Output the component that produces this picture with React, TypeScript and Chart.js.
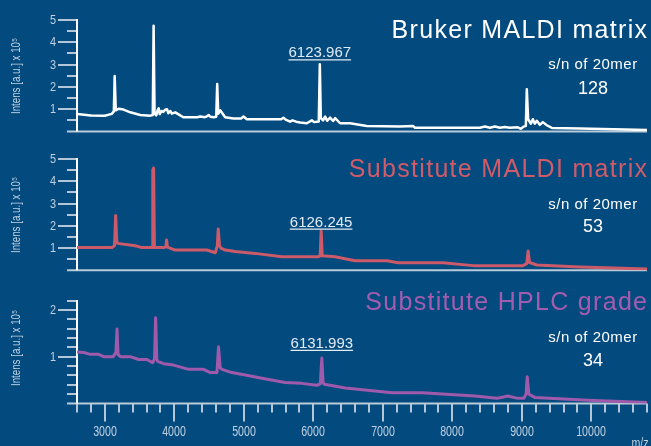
import React, { useEffect, useRef } from 'react';
import { Chart, registerables } from 'chart.js';

Chart.register(...registerables);

// ---------------- data ----------------
const mzMin = 2600;
const mzMax = 10800;
const xMajorTicks = [3000, 4000, 5000, 6000, 7000, 8000, 9000, 10000];

const panelTitles = ['Bruker MALDI matrix', 'Substitute MALDI matrix', 'Substitute HPLC grade'];
const snLabel = 's/n of 20mer';
const snValues = ['128', '53', '34'];
const peakLabels = ['6123.967', '6126.245', '6131.993'];
const peakLabelMz = [6093, 6112, 6122];
const peakLabelIntens = [3.32, 1.96, 1.19];
const yMaxes = [5, 5, 2.2];
const ySteps = [0.5, 0.5, 0.2];
const yAxisTitle = 'Intens [a.u.] x 10⁵';
const xAxisTitle = 'm/z';

const brukerMz = [
  2600, 2800, 3000, 3100, 3130, 3142, 3158, 3195, 3250, 3367, 3510, 3655, 3690, 3702, 3716, 3740,
  3760, 3775, 3790, 3815, 3841, 3870, 3895, 3913, 3942, 3965, 4014, 4061, 4129, 4330, 4373, 4440,
  4469, 4495, 4517, 4564, 4603, 4617, 4632, 4660, 4685, 4732, 4851, 4960, 4995, 5044, 5331, 5537,
  5570, 5601, 5666, 5700, 5752, 5810, 5906, 5978, 6011, 6078, 6093, 6108, 6140, 6169, 6198, 6241,
  6284, 6313, 6385, 6528, 6768, 7246, 7433, 7462, 8396, 8468, 8540, 8612, 8683, 8755, 8827, 8942,
  8985, 9028, 9057, 9071, 9090, 9129, 9158, 9186, 9215, 9258, 9301, 9359, 9431, 9834, 10800,
];
const brukerIntens = [
  0.79, 0.72, 0.71, 0.79, 0.9, 2.49, 0.95, 1.02, 1.0, 0.86, 0.74, 0.71, 0.74, 4.74, 0.8, 0.72,
  0.95, 1.04, 0.78, 0.92, 0.88, 0.98, 1.0, 0.82, 0.92, 0.8, 0.86, 0.77, 0.64, 0.64, 0.67, 0.64,
  0.68, 0.74, 0.66, 0.64, 0.66, 2.13, 0.8, 0.95, 0.84, 0.64, 0.58, 0.58, 0.67, 0.55, 0.55, 0.55,
  0.62, 0.53, 0.44, 0.5, 0.44, 0.4, 0.37, 0.5, 0.42, 0.45, 3.02, 0.6, 0.5, 0.67, 0.48, 0.62,
  0.47, 0.6, 0.37, 0.37, 0.25, 0.22, 0.25, 0.17, 0.17, 0.22, 0.17, 0.22, 0.17, 0.2, 0.17, 0.19,
  0.12, 0.22, 0.25, 1.9, 0.55, 0.35, 0.55, 0.35, 0.48, 0.3, 0.42, 0.28, 0.16, 0.13, 0.07,
];

const substituteMz = [
  2600, 3104, 3140, 3156, 3172, 3185, 3439, 3535, 3679, 3690, 3702, 3714, 3741, 3841, 3878, 3889,
  3900, 3918, 4014, 4469, 4589, 4618, 4632, 4650, 4670, 4732, 4876, 5163, 5547, 6073, 6098, 6112,
  6128, 6313, 6600, 7060, 7218, 7864, 8296, 9014, 9070, 9090, 9110, 9215, 9834, 10800,
];
const substituteIntens = [
  1.02, 1.02, 1.1, 2.46, 1.3, 1.21, 1.1, 1.02, 1.02, 4.5, 4.59, 1.02, 1.02, 1.02, 1.05, 1.36,
  1.05, 1.02, 0.91, 0.91, 0.79, 1.1, 1.85, 1.1, 1.0, 0.91, 0.84, 0.76, 0.61, 0.61, 0.65, 1.77,
  0.65, 0.61, 0.43, 0.43, 0.34, 0.34, 0.21, 0.21, 0.3, 0.87, 0.35, 0.24, 0.15, 0.06,
];

const hplcMz = [
  2600, 2696, 2793, 2912, 2984, 3119, 3142, 3160, 3176, 3190, 3224, 3367, 3487, 3607, 3688, 3715,
  3731, 3748, 3760, 3846, 3989, 4205, 4420, 4517, 4613, 4636, 4660, 4685, 4828, 5020, 5260, 5594,
  5834, 6050, 6100, 6122, 6140, 6159, 6460, 7132, 7563, 8324, 8640, 8798, 8913, 9028, 9060, 9077,
  9100, 9186, 9948, 10800,
];
const hplcIntens = [
  1.1, 1.09, 1.05, 1.05, 1.0, 1.0, 1.05, 1.1, 1.59, 1.05, 1.0, 1.0, 0.94, 0.94, 0.87, 0.95,
  1.83, 0.95, 0.9, 0.85, 0.82, 0.73, 0.73, 0.66, 0.66, 1.21, 0.76, 0.73, 0.66, 0.61, 0.54, 0.45,
  0.43, 0.39, 0.42, 0.97, 0.45, 0.41, 0.33, 0.23, 0.23, 0.16, 0.11, 0.16, 0.12, 0.11, 0.2, 0.57,
  0.2, 0.13, 0.07, 0.02,
];

// ---------------- styles / layout ----------------
const BG = '#034a7f';
const SANS = "'Liberation Sans', Arial, Helvetica, sans-serif";
const AXIS_TXT = '#c0d1e1';
const TICK_COL = '#b4c7d9';
const XAXIS_COL = '#b9cad9';

const W = 651;
const H = 446;

const seriesMz = [brukerMz, substituteMz, hplcMz];
const seriesIntens = [brukerIntens, substituteIntens, hplcIntens];
const lineColors = ['#ffffff', '#cd5a68', '#a05aab'];
const titleColors = ['#ffffff', '#d05b69', '#a45cae'];
const lineWidths = [2.5, 3, 3];

const layouts = [
  { top: 0, height: 140, padTop: 20, padBottom: 8.5, titleY: 37.7, snY: 69, numY: 94.3, yTitleY: 76 },
  { top: 140, height: 145, padTop: 19, padBottom: 14.7, titleY: 177.3, snY: 209, numY: 232.3, yTitleY: 215 },
  { top: 285, height: 161, padTop: 15.5, padBottom: 6.5, titleY: 310, snY: 341.7, numY: 366, yTitleY: 348 },
];

const isInt = (v: number) => Math.abs(v - Math.round(v)) < 1e-6;

function condensedText(
  ctx: any,
  text: string,
  x: number,
  y: number,
  align: string,
  baseline: string,
  squeeze: number,
  rot = 0
) {
  ctx.save();
  ctx.translate(x, y);
  if (rot) ctx.rotate(rot);
  ctx.scale(squeeze, 1);
  ctx.textAlign = align;
  ctx.textBaseline = baseline;
  ctx.fillText(text, 0, 0);
  ctx.restore();
}

const axesPlugin = {
  id: 'specAxes',
  beforeDatasetsDraw(chart: any, _args: any, o: any) {
    const { ctx, chartArea: ca, scales } = chart;
    const y = scales.y;
    const x = scales.x;
    const by = y.getPixelForValue(0);
    ctx.save();
    ctx.lineWidth = 2;
    ctx.strokeStyle = TICK_COL;
    ctx.fillStyle = AXIS_TXT;
    ctx.font = `13px ${SANS}`;
    y.ticks.forEach((t: any) => {
      if (t.value <= 0) return;
      const py = Math.round(y.getPixelForValue(t.value));
      const major = isInt(t.value);
      const len = major ? 19 : 10;
      ctx.beginPath();
      ctx.moveTo(ca.left - len, py);
      ctx.lineTo(ca.left, py);
      ctx.stroke();
      if (major) condensedText(ctx, String(Math.round(t.value)), ca.left - 21, py + 0.5, 'right', 'middle', 0.84);
    });
    // y axis title
    ctx.font = `12.5px ${SANS}`;
    condensedText(ctx, yAxisTitle, 17, o.yTitleY, 'center', 'middle', 0.78, -Math.PI / 2);
    if (o.xTicks) {
      ctx.font = `14px ${SANS}`;
      x.ticks.forEach((t: any) => {
        const px = Math.round(x.getPixelForValue(t.value));
        const major = xMajorTicks.includes(t.value);
        const len = major ? 18 : 9;
        ctx.beginPath();
        ctx.moveTo(px, by);
        ctx.lineTo(px, by + len);
        ctx.stroke();
        if (major) condensedText(ctx, String(t.value), px, by + 32.3, 'center', 'alphabetic', 0.76);
      });
      condensedText(ctx, xAxisTitle, 640, chart.height + 2, 'center', 'alphabetic', 0.76);
    }
    ctx.strokeStyle = XAXIS_COL;
    ctx.beginPath();
    ctx.moveTo(ca.left - 10, by);
    ctx.lineTo(ca.right, by);
    ctx.stroke();
    ctx.strokeStyle = '#ffffff';
    ctx.beginPath();
    ctx.moveTo(ca.left, Math.round(y.getPixelForValue(y.max)) - 1);
    ctx.lineTo(ca.left, by);
    ctx.stroke();
    ctx.restore();
  },
};

const textPlugin = {
  id: 'specText',
  afterDraw(chart: any, _args: any, o: any) {
    const { ctx, scales } = chart;
    const x = scales.x;
    const y = scales.y;
    ctx.save();
    ctx.textBaseline = 'alphabetic';
    // panel title
    ctx.fillStyle = o.titleColor;
    ctx.font = `25px ${SANS}`;
    (ctx as any).letterSpacing = '1.3px';
    ctx.textAlign = 'right';
    ctx.fillText(o.title, 647 + 1.3, o.titleY);
    // s/n label
    ctx.fillStyle = '#ffffff';
    ctx.font = `15px ${SANS}`;
    (ctx as any).letterSpacing = '0.5px';
    ctx.textAlign = 'center';
    ctx.fillText(snLabel, 593, o.snY);
    (ctx as any).letterSpacing = '0px';
    ctx.font = `18px ${SANS}`;
    ctx.fillText(o.sn, 593, o.numY);
    // peak annotation
    ctx.fillStyle = '#e3ebf2';
    ctx.strokeStyle = '#e3ebf2';
    ctx.font = `15px ${SANS}`;
    const px = x.getPixelForValue(o.peakMz);
    const py = y.getPixelForValue(o.peakY);
    ctx.textAlign = 'center';
    ctx.fillText(o.peakLabel, px, py);
    const w = ctx.measureText(o.peakLabel).width;
    ctx.lineWidth = 1.3;
    ctx.beginPath();
    ctx.moveTo(px - w / 2, py + 2.5);
    ctx.lineTo(px + w / 2, py + 2.5);
    ctx.stroke();
    ctx.restore();
  },
};

function Panel({ idx }: { idx: number }) {
  const ref = useRef<HTMLCanvasElement>(null);
  const L = layouts[idx];
  useEffect(() => {
    if (!ref.current) return;
    const isBottom = idx === 2;
    const mz = seriesMz[idx];
    const it = seriesIntens[idx];
    const chart = new Chart(ref.current, {
      type: 'line',
      data: {
        datasets: [
          {
            data: mz.map((m, i) => ({ x: m, y: it[i] })),
            borderColor: lineColors[idx],
            borderWidth: lineWidths[idx],
            pointRadius: 0,
            tension: 0,
            fill: false,
            borderJoinStyle: 'round',
          } as any,
        ],
      },
      options: {
        responsive: false,
        animation: false,
        devicePixelRatio: 1,
        events: [],
        layout: { padding: { left: 0, right: 4, top: L.padTop, bottom: L.padBottom } },
        plugins: {
          legend: { display: false },
          tooltip: { enabled: false },
          specAxes: { xTicks: isBottom, yTitleY: L.yTitleY - L.top },
          specText: {
            title: panelTitles[idx],
            titleColor: titleColors[idx],
            titleY: L.titleY - L.top,
            snY: L.snY - L.top,
            numY: L.numY - L.top,
            sn: snValues[idx],
            peakLabel: peakLabels[idx],
            peakMz: peakLabelMz[idx],
            peakY: peakLabelIntens[idx],
          },
        } as any,
        scales: {
          x: {
            type: 'linear',
            min: mzMin,
            max: mzMax,
            display: isBottom,
            grid: { display: false, drawTicks: false },
            border: { display: false },
            ticks: {
              display: false,
              stepSize: 200,
              autoSkip: false,
              maxRotation: 0,
              minRotation: 0,
            },
            afterFit: (s: any) => {
              if (isBottom) s.height = 36;
            },
          },
          y: {
            type: 'linear',
            min: 0,
            max: yMaxes[idx],
            grid: { display: false, drawTicks: false },
            border: { display: false },
            ticks: {
              display: false,
              stepSize: ySteps[idx],
              maxTicksLimit: 100,
              autoSkip: false,
            },
            afterFit: (s: any) => {
              s.width = 77;
            },
          },
        } as any,
      },
      plugins: [axesPlugin, textPlugin],
    });
    return () => chart.destroy();
  }, [idx]);
  return (
    <canvas
      ref={ref}
      width={W}
      height={L.height}
      style={{ position: 'absolute', left: 0, top: L.top, width: W, height: L.height, display: 'block' }}
    />
  );
}

export default function App() {
  return (
    <div
      style={{
        position: 'fixed',
        left: 0,
        top: 0,
        width: W,
        height: H,
        background: BG,
        overflow: 'hidden',
      }}
    >
      <Panel idx={0} />
      <Panel idx={1} />
      <Panel idx={2} />
    </div>
  );
}
